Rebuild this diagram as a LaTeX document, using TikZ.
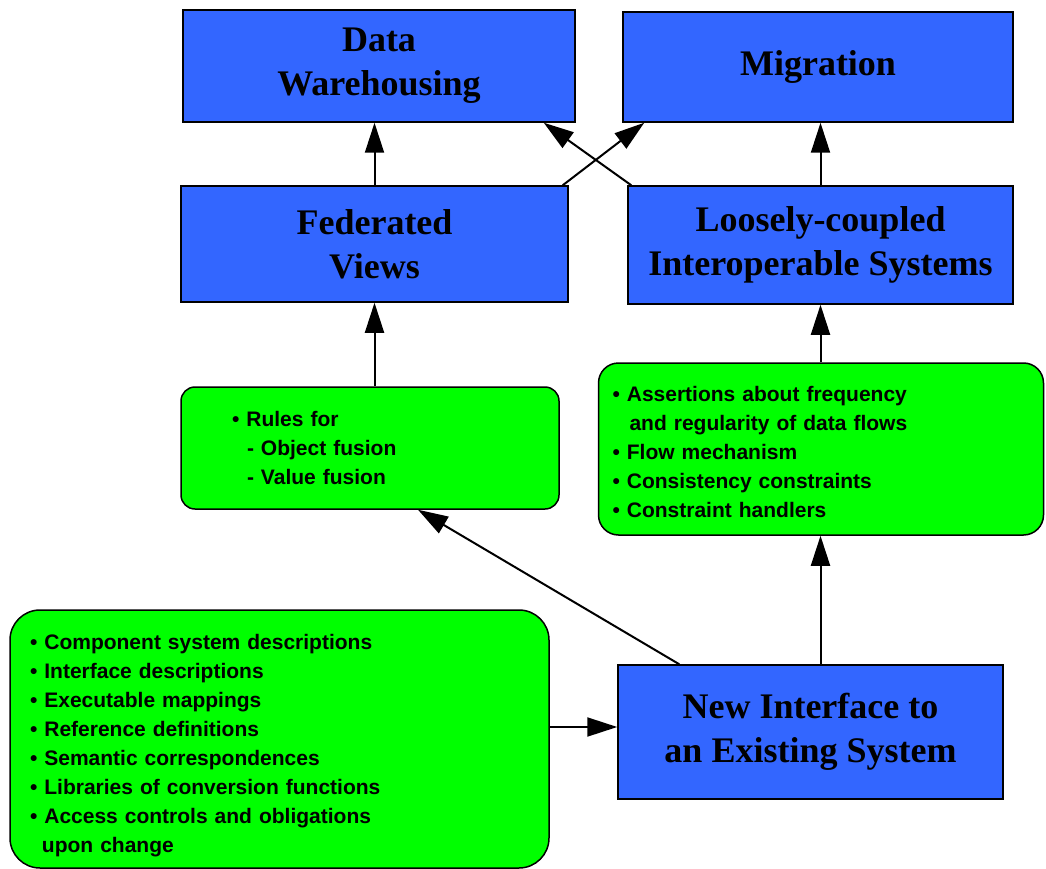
\documentclass[tikz,border=0pt]{standalone}
\usepackage{fontspec}
\setmainfont{Liberation Serif}
\newfontfamily\notesans{Liberation Sans}
\usetikzlibrary{arrows.meta}
\definecolor{goalblue}{RGB}{51,102,255}
\definecolor{notegreen}{RGB}{0,255,0}

\tikzset{
  goalbox/.style={draw,line width=1.5pt,fill=goalblue,align=center,inner sep=0pt,
    font=\bfseries\fontsize{36}{44}\selectfont},
  notebox/.style={draw,line width=1.5pt,fill=notegreen,align=left,inner ysep=2pt,
    font=\notesans\bfseries\fontsize{21}{29}\selectfont},
  link/.style={line width=2pt,-{Triangle[length=30pt,width=19pt]}},
}

\begin{document}
\begin{tikzpicture}[x=1pt,y=-1pt]
	%Canvas of the reference, one unit per pixel
	\useasboundingbox (0,0) rectangle (1046,869);

	%Top row
	\node[goalbox,minimum width=392,minimum height=112] (dw) at (379,66) {Data\\Warehousing};
	\node[goalbox,minimum width=390,minimum height=110] (mig) at (818,67) {Migration};

	%Second row
	\node[goalbox,minimum width=387,minimum height=116] (fed) at (374.5,244) {Federated\\Views};
	\node[goalbox,minimum width=385,minimum height=118] (loose) at (820.5,245) {Loosely-coupled\\Interoperable Systems};

	%Green notes
	\node[notebox,rounded corners=14pt,inner xsep=51pt,text width=276pt,minimum height=122] (rules) at (370,448)
		{• Rules for\\\hspace*{15pt}- Object fusion\\\hspace*{15pt}- Value fusion};
	\node[notebox,rounded corners=20pt,inner xsep=14pt,text width=417pt,minimum height=172] (assert) at (821,449)
		{\rule{0pt}{22pt}• Assertions about frequency\\\hspace*{17pt}and regularity of data flows\\• Flow mechanism\\• Consistency constraints\\• Constraint handlers};
	\node[notebox,rounded corners=30pt,inner xsep=20pt,text width=499pt,minimum height=258] (specs) at (279.5,739)
		{\rule{0pt}{28pt}• Component system descriptions\\• Interface descriptions\\• Executable mappings\\• Reference definitions\\• Semantic correspondences\\• Libraries of conversion functions\\• Access controls and obligations\\\hspace*{12pt}upon change};

	%Bottom
	\node[goalbox,minimum width=385,minimum height=134] (newif) at (810.5,732) {New Interface to\\an Existing System};

	%Arrows between the rows
	\draw[link] (fed.north) -- (fed.north |- dw.south);
	\draw[link] ([xshift=-6pt]fed.north east) -- ([xshift=22pt]mig.south west);
	\draw[link] ([xshift=4pt]loose.north west) -- ([xshift=-32pt]dw.south east);
	\draw[link] (loose.north) -- (loose.north |- mig.south);
	\draw[link] (fed.south |- rules.north) -- (fed.south);
	\draw[link] (loose.south |- assert.north) -- (loose.south);
	\draw[link] ([xshift=62pt]newif.north west) -- ([xshift=48pt]rules.south);
	\draw[link] (loose.south |- newif.north) -- (loose.south |- assert.south);
	\coordinate (nwin) at ([yshift=5pt]newif.west);
	\draw[link] (nwin -| specs.east) -- (nwin);
\end{tikzpicture}
\end{document}
